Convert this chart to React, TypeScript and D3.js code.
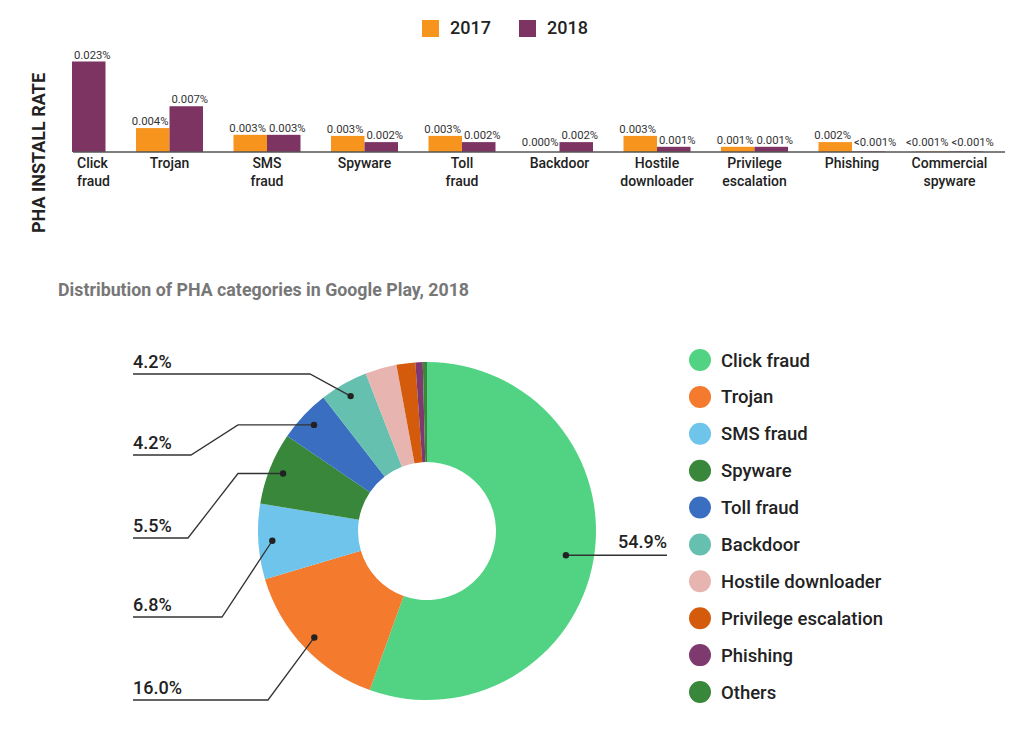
import React from 'react';
import * as d3 from 'd3';

// ---------- Bar chart data ----------
const categories = ['Click fraud', 'Trojan', 'SMS fraud', 'Spyware', 'Toll fraud', 'Backdoor', 'Hostile downloader', 'Privilege escalation', 'Phishing', 'Commercial spyware'];
const categoryLines = [['Click', 'fraud'], ['Trojan'], ['SMS', 'fraud'], ['Spyware'], ['Toll', 'fraud'], ['Backdoor'], ['Hostile', 'downloader'], ['Privilege', 'escalation'], ['Phishing'], ['Commercial', 'spyware']];
const years = ['2017', '2018'];
const rate2017 = [0, 0.0046, 0.0033, 0.0031, 0.0031, 0, 0.0031, 0.001, 0.0019, 0.0001];
const rate2018 = [0.0174, 0.0088, 0.0033, 0.0019, 0.0019, 0.0019, 0.001, 0.001, 0.0001, 0.0001];
const labels2017 = ['', '0.004%', '0.003%', '0.003%', '0.003%', '0.000%', '0.003%', '0.001%', '0.002%', '<0.001%'];
const labels2018 = ['0.023%', '0.007%', '0.003%', '0.002%', '0.002%', '0.002%', '0.001%', '0.001%', '<0.001%', '<0.001%'];

// ---------- Donut data ----------
const pieCategories = ['Click fraud', 'Trojan', 'SMS fraud', 'Spyware', 'Toll fraud', 'Backdoor', 'Hostile downloader', 'Privilege escalation', 'Phishing', 'Others'];
const pieShares = [55.5, 14.9, 7.2, 6.9, 5.0, 4.6, 3.0, 1.8, 0.7, 0.4];
const pieLabels = ['54.9%', '16.0%', '6.8%', '5.5%', '4.2%', '4.2%', '', '', '', ''];

// ---------- Styles ----------
const yearColors = ['#F7941E', '#7D3463'];
const pieColors = ['#52D384', '#F47A2E', '#6EC4EA', '#38873B', '#3A6EC0', '#66C0AF', '#E7B4B0', '#D35B0B', '#7E3A6F', '#38873B'];
const FONT = 'Roboto, "Noto Sans", sans-serif';

// leader-line layout for donut labels (left side): label underline y and elbow points
const leaderLayout: { [k: number]: { lineY: number; elbows: Array<[number, number | null]> } } = {
  1: { lineY: 700, elbows: [[268, 700]] },
  2: { lineY: 617, elbows: [[222, 617]] },
  3: { lineY: 538, elbows: [[238, null], [188, 538]] },
  4: { lineY: 455, elbows: [[238, null], [191, 455]] },
  5: { lineY: 374, elbows: [[310, 374]] },
};

export default function App() {
  // ----- bar chart geometry -----
  const baseline = 152;
  const axisX0 = 73;
  const axisX1 = 1005;
  const x = d3.scalePoint<string>().domain(categories).range([72, 949.5]);
  const sub = d3.scaleBand<string>().domain(years).range([-33.5, 33.5]);
  const y = d3.scaleLinear().domain([0, d3.max(rate2018) as number]).range([baseline, 61.5]);
  const series = [rate2017, rate2018];
  const seriesLabels = [labels2017, labels2018];

  // ----- donut geometry -----
  const cx = 427;
  const cy = 531;
  const R = 169;
  const r = 69;
  const pie = d3.pie<number>().sort(null).value((d) => d)(pieShares);
  const arc = d3.arc<d3.PieArcDatum<number>>().innerRadius(r).outerRadius(R);

  const dotPos = (i: number) => {
    const a = pie[i];
    const mid = (a.startAngle + a.endAngle) / 2;
    const rr = i === 0 ? 141 : 155;
    return [cx + rr * Math.sin(mid), cy - rr * Math.cos(mid)];
  };

  const legendY = d3.scalePoint<string>().domain(pieCategories).range([360, 692]);

  return (
    <svg width={1024} height={748} style={{ position: 'absolute', left: 0, top: 0, display: 'block' }} fontFamily={FONT}>
      <rect width={1024} height={748} fill="#fff" />
      {/* Legend for bars */}
      {years.map((yr, i) => (
        <g key={yr} transform={`translate(${422 + i * 97},20)`}>
          <rect width={17} height={17} fill={yearColors[i]} />
          <text x={28} y={14} fontSize={18} fontWeight={500} fill="#222">{yr}</text>
        </g>
      ))}
      {/* Y title */}
      <text transform={`translate(45,153) rotate(-90)`} textAnchor="middle" fontSize={18} fontWeight={700} fill="#222">PHA INSTALL RATE</text>
      {/* Bars */}
      {categories.map((c, ci) => (
        <g key={c}>
          {series.map((s, si) => {
            const bx = (x(c) as number) + (sub(years[si]) as number);
            const bw = sub.bandwidth();
            const v = s[ci];
            const top = y(v);
            const lbl = seriesLabels[si][ci];
            const ly = Math.min(top, baseline - 3) - 3;
            return (
              <g key={si}>
                {v > 0 && <rect x={bx} y={top} width={bw} height={baseline - top} fill={yearColors[si]} />}
                {lbl && (
                  <text
                    x={si === 0 ? (x(c) as number) - 1 : (x(c) as number) + 2}
                    y={ly}
                    textAnchor={si === 0 ? 'end' : 'start'}
                    fontSize={11.3}
                    fill="#333"
                  >
                    {lbl}
                  </text>
                )}
              </g>
            );
          })}
          {categoryLines[ci].map((ln, li) => (
            <text
              key={li}
              x={ci === 0 ? axisX0 + 4 : (x(c) as number)}
              y={168 + li * 18}
              textAnchor={ci === 0 ? 'start' : 'middle'}
              fontSize={14}
              fontWeight={500}
              fill="#222"
            >
              {ln}
            </text>
          ))}
        </g>
      ))}
      <line x1={axisX0} x2={axisX1} y1={baseline} y2={baseline} stroke="#555" strokeWidth={1.5} />

      {/* Donut subtitle */}
      <text x={58} y={296} fontSize={17.8} fontWeight={700} fill="#777">Distribution of PHA categories in Google Play, 2018</text>

      {/* Donut */}
      <g transform={`translate(${cx},${cy})`}>
        {pie.map((p, i) => (
          <path key={i} d={arc(p) as string} fill={pieColors[i]} />
        ))}
      </g>

      {/* Leader lines */}
      {pieLabels.map((lbl, i) => {
        if (!lbl) return null;
        const [dx, dy] = dotPos(i);
        if (i === 0) {
          return (
            <g key={i}>
              <line x1={dx} y1={dy} x2={667} y2={dy} stroke="#333" strokeWidth={1.3} />
              <circle cx={dx} cy={dy} r={3.2} fill="#222" />
              <text x={667} y={dy - 7} textAnchor="end" fontSize={18} fontWeight={500} fill="#222">{lbl}</text>
            </g>
          );
        }
        const lay = leaderLayout[i];
        const pts: Array<[number, number]> = [[dx, dy]];
        lay.elbows.forEach(([ex, ey]) => pts.push([ex, ey === null ? dy : ey]));
        pts.push([133, lay.lineY]);
        const line = d3.line();
        return (
          <g key={i}>
            <path d={line(pts) as string} fill="none" stroke="#333" strokeWidth={1.3} />
            <circle cx={dx} cy={dy} r={3.2} fill="#222" />
            <text x={133} y={lay.lineY - 6} fontSize={18} fontWeight={500} fill="#222">{lbl}</text>
          </g>
        );
      })}

      {/* Donut legend */}
      {pieCategories.map((c, i) => (
        <g key={c} transform={`translate(700,${legendY(c)})`}>
          <circle r={11} fill={pieColors[i]} />
          <text x={21} y={6.5} fontSize={18.5} fontWeight={500} fill="#222">{c}</text>
        </g>
      ))}
    </svg>
  );
}
